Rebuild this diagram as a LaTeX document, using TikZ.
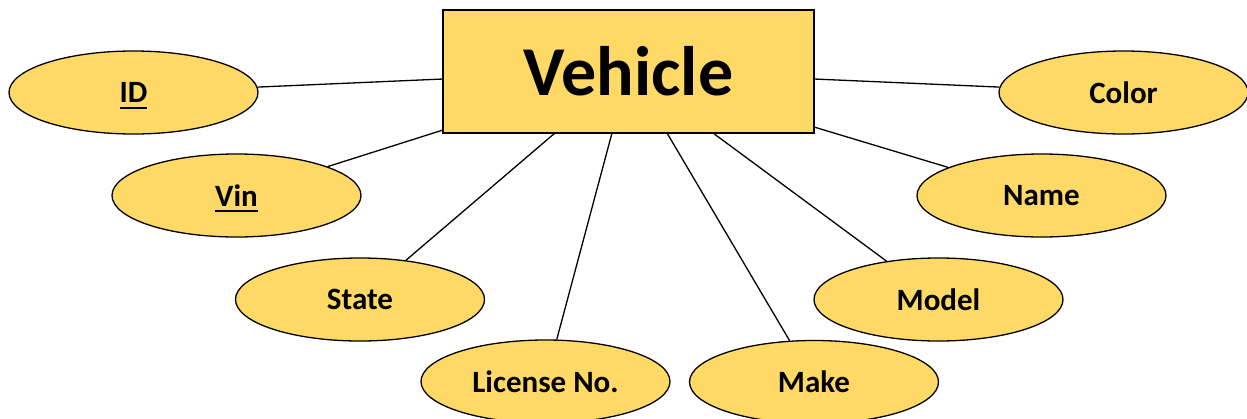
\documentclass[tikz,border=0pt]{standalone}
\usepackage{fontspec}
\setmainfont{Carlito}
\usetikzlibrary{shapes.geometric}
\definecolor{attrfill}{HTML}{FFD966}
\newcommand\myul[1]{\setbox0\hbox{#1}\rlap{\smash{\rule[-6pt]{\wd0}{2pt}}}\box0}
\begin{document}
\begin{tikzpicture}[x=1pt,y=-1pt,
  attr/.style={ellipse, draw=black, line width=1.3pt, fill=attrfill, minimum width=249pt, minimum height=83pt, inner sep=0pt, font=\bfseries\fontsize{31}{31}\selectfont},
  entity/.style={rectangle, draw=black, line width=1.5pt, fill=attrfill, minimum width=371pt, minimum height=123pt, inner sep=0pt, font=\bfseries\fontsize{70}{70}\selectfont},
  conn/.style={draw=black, line width=1.3pt}]
\useasboundingbox (0,0) rectangle (1247,418);
\node[entity] (veh) at (628.5,71.5) {Vehicle};
\node[attr] (id) at (133.5,92.5) {\myul{ID}};
\node[attr] (vin) at (236.5,195.5) {\myul{Vin}};
\node[attr] (state) at (360,299.5) {State};
\node[attr] (lic) at (545.5,381.5) {License No.};
\node[attr] (make) at (814,382) {Make};
\node[attr] (model) at (938.5,299.5) {Model};
\node[attr] (name) at (1041.5,195.5) {Name};
\node[attr] (color) at (1123.5,92.5) {Color};
\coordinate (pid) at (443,79);
\coordinate (pvin) at (443,130);
\coordinate (pstate) at (555,133);
\coordinate (plic) at (612,133);
\coordinate (pmake) at (667,133);
\coordinate (pmodel) at (713,133);
\coordinate (pname) at (814,127);
\coordinate (pcolor) at (814,79);
\draw[conn] (id) -- (pid);
\draw[conn] (vin) -- (pvin);
\draw[conn] (state) -- (pstate);
\draw[conn] (lic) -- (plic);
\draw[conn] (make) -- (pmake);
\draw[conn] (model) -- (pmodel);
\draw[conn] (name) -- (pname);
\draw[conn] (color) -- (pcolor);
\end{tikzpicture}
\end{document}
